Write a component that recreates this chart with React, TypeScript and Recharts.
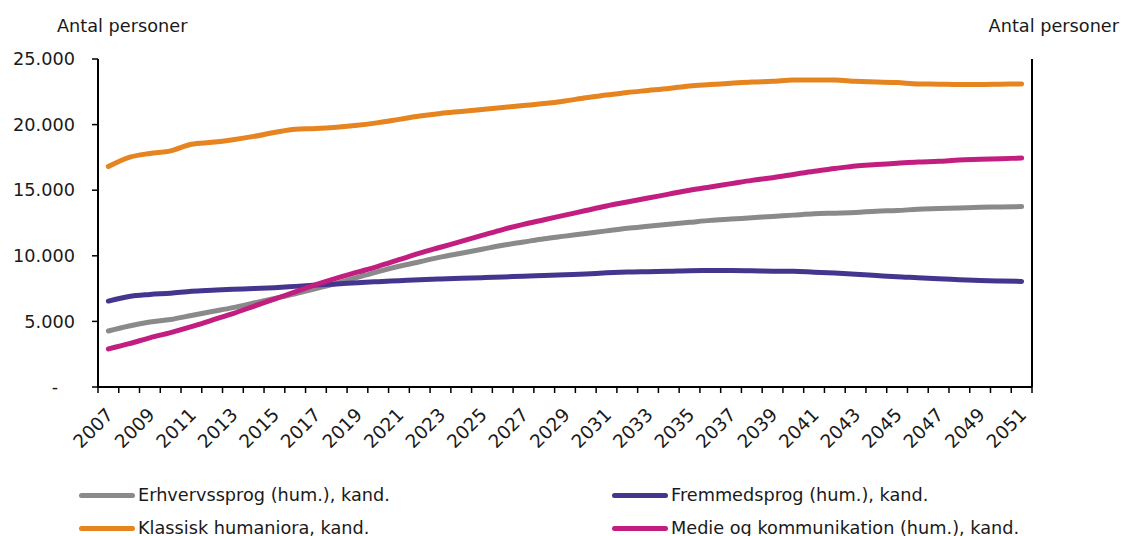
import { Legend, Line, LineChart, XAxis, YAxis } from "recharts"

const FONT = "'DejaVu Sans', sans-serif"
const INK = "#1a1a1a"
const FS = 17.7

const years = [
  2007, 2008, 2009, 2010, 2011, 2012, 2013, 2014, 2015, 2016, 2017, 2018, 2019, 2020, 2021,
  2022, 2023, 2024, 2025, 2026, 2027, 2028, 2029, 2030, 2031, 2032, 2033, 2034, 2035, 2036,
  2037, 2038, 2039, 2040, 2041, 2042, 2043, 2044, 2045, 2046, 2047, 2048, 2049, 2050, 2051,
]

const erhvervssprog = [
  4270, 4650, 4950, 5150, 5450, 5750, 6050, 6400, 6750, 7100, 7500, 7900, 8350, 8800, 9200,
  9550, 9900, 10200, 10500, 10800, 11050, 11300, 11500, 11700, 11900, 12100, 12250, 12400, 12550, 12700,
  12800, 12900, 13000, 13100, 13200, 13250, 13300, 13400, 13450, 13550, 13600, 13650, 13700, 13720, 13750,
]

const fremmedsprog = [
  6550, 6900, 7050, 7150, 7300, 7380, 7450, 7500, 7570, 7670, 7770, 7850, 7950, 8030, 8100,
  8170, 8230, 8280, 8330, 8380, 8450, 8500, 8560, 8620, 8700, 8760, 8790, 8820, 8870, 8880,
  8880, 8860, 8830, 8820, 8750, 8680, 8600, 8500, 8400, 8330, 8250, 8180, 8110, 8070, 8050,
]

const klassisk = [
  16800, 17500, 17800, 18000, 18500, 18650, 18850, 19100, 19400, 19650, 19700, 19800, 19950, 20150, 20400,
  20650, 20850, 21000, 21150, 21300, 21450, 21600, 21800, 22050, 22250, 22450, 22600, 22750, 22950, 23050,
  23150, 23250, 23300, 23400, 23400, 23400, 23300, 23250, 23200, 23100, 23080, 23050, 23050, 23080, 23100,
]

const medie = [
  2900, 3300, 3750, 4150, 4600, 5100, 5600, 6150, 6700, 7250, 7800, 8300, 8750, 9200, 9700,
  10200, 10650, 11100, 11550, 12000, 12400, 12750, 13100, 13450, 13800, 14100, 14400, 14700, 15000, 15250,
  15500, 15750, 15950, 16200, 16450, 16650, 16850, 16950, 17050, 17150, 17200, 17300, 17350, 17400, 17450,
]

const yTicks = [0, 5000, 10000, 15000, 20000, 25000]

const series = [
  { key: "erhverv", name: "Erhvervssprog (hum.), kand.", color: "#8a8a8a", values: erhvervssprog },
  { key: "fremmed", name: "Fremmedsprog (hum.), kand.", color: "#44358f", values: fremmedsprog },
  { key: "klassisk", name: "Klassisk humaniora, kand.", color: "#e6841f", values: klassisk },
  { key: "medie", name: "Medie og kommunikation (hum.), kand.", color: "#c21e80", values: medie },
]

const data = years.map((year, i) => {
  const row: Record<string, number> = { year }
  series.forEach((s) => {
    row[s.key] = s.values[i]
  })
  return row
})

// tick marks sit between the years, labels on every second year
const xTicks = [years[0] - 0.5, ...years.flatMap((y) => [y, y + 0.5])]

const fmt = (v: number) =>
  v === 0 ? "-\u00a0\u00a0\u00a0" : String(v).replace(/\B(?=(\d{3})+(?!\d))/g, ".")

function XTick(props: any) {
  const { x, y, payload } = props
  const v = payload.value as number
  if (v % 1 !== 0) {
    return <line x1={x} x2={x} y1={y} y2={y + 6} stroke="#000" strokeWidth={1.5} />
  }
  if ((v - years[0]) % 2 !== 0) return null
  const tx = x + 6
  const ty = y + 29
  return (
    <text
      x={tx}
      y={ty}
      textAnchor="end"
      transform={`rotate(-45, ${tx}, ${ty})`}
      fontSize={18.5}
      fontFamily={FONT}
      fill={INK}
    >
      {v}
    </text>
  )
}

function AxisTitle(props: any) {
  const { viewBox, side } = props
  const left = side === "left"
  return (
    <text
      x={left ? viewBox.x + 57 : viewBox.x + viewBox.width - 3}
      y={viewBox.y - 27}
      textAnchor={left ? "start" : "end"}
      fontSize={FS}
      fontFamily={FONT}
      fill={INK}
    >
      Antal personer
    </text>
  )
}

function LegendBox() {
  return (
    <div style={{ position: "relative", height: 70, fontFamily: FONT, fontSize: FS, color: INK }}>
      {series.map((s, i) => (
        <div
          key={s.key}
          style={{
            position: "absolute",
            left: i % 2 === 0 ? 79 : 612,
            top: i < 2 ? 17 : 50,
            display: "flex",
            alignItems: "center",
            whiteSpace: "nowrap",
            lineHeight: "24px",
          }}
        >
          <span
            style={{ display: "inline-block", width: 56, height: 5, borderRadius: 3, background: s.color, marginRight: 3 }}
          />
          <span>{s.name}</span>
        </div>
      ))}
    </div>
  )
}

const tickStyle = { fontSize: FS, fontFamily: FONT, fill: INK }

export default function App() {
  return (
    <div style={{ position: "absolute", left: 0, top: 0, width: 1122, height: 536, background: "#fff" }}>
      <LineChart width={1122} height={536} data={data} margin={{ top: 59, right: 0, bottom: 0, left: 0 }}>
        <XAxis
          dataKey="year"
          type="number"
          domain={[years[0] - 0.5, years[years.length - 1] + 0.5]}
          ticks={xTicks}
          interval={0}
          tickLine={false}
          tickSize={0}
          tickMargin={0}
          tick={<XTick />}
          axisLine={{ stroke: "#000", strokeWidth: 2 }}
          height={79}
        />
        <YAxis
          yAxisId="left"
          orientation="left"
          width={98}
          domain={[0, 25000]}
          ticks={yTicks}
          interval={0}
          tickFormatter={fmt}
          tick={tickStyle}
          tickSize={6}
          tickMargin={17}
          tickLine={{ stroke: "#000", strokeWidth: 1.5 }}
          axisLine={{ stroke: "#000", strokeWidth: 2 }}
          label={<AxisTitle side="left" />}
        />
        <YAxis
          yAxisId="right"
          orientation="right"
          width={90}
          domain={[0, 25000]}
          ticks={yTicks}
          interval={0}
          tickFormatter={fmt}
          tick={{ ...tickStyle, textAnchor: "start" }}
          tickSize={6}
          tickMargin={15}
          tickLine={{ stroke: "#000", strokeWidth: 1.5 }}
          axisLine={{ stroke: "#000", strokeWidth: 2 }}
          label={<AxisTitle side="right" />}
        />
        <Legend
          verticalAlign="bottom"
          height={70}
          content={<LegendBox />}
          wrapperStyle={{ left: 0, bottom: 0, width: 1122, height: 70 }}
        />
        {series.map((s) => (
          <Line
            key={s.key}
            yAxisId="left"
            dataKey={s.key}
            name={s.name}
            type="monotone"
            stroke={s.color}
            strokeWidth={5}
            strokeLinecap="round"
            strokeLinejoin="round"
            dot={false}
            activeDot={false}
            isAnimationActive={false}
          />
        ))}
      </LineChart>
    </div>
  )
}
